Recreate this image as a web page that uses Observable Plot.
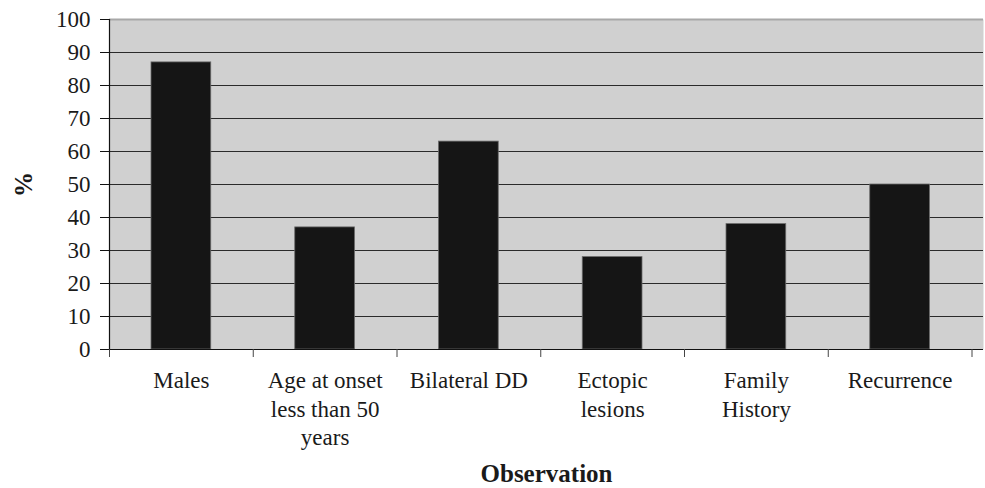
<!DOCTYPE html>
<html>
<head>
<meta charset="utf-8">
<script src="https://cdn.jsdelivr.net/npm/d3@7"></script>
<script src="https://cdn.jsdelivr.net/npm/@observablehq/plot@0.6"></script>
<style>
  html, body { margin: 0; padding: 0; background: #ffffff; }
  #chart { width: 985px; height: 488px; }
  #chart svg text { font-family: "Liberation Serif", "Times New Roman", serif; }
</style>
</head>
<body>
<div id="chart"></div>
<script>
const categories = ["Males", "Age at onset less than 50 years", "Bilateral DD", "Ectopic lesions", "Family History", "Recurrence"];
const tickLabels = ["Males", "Age at onset\nless than 50\nyears", "Bilateral DD", "Ectopic\nlesions", "Family\nHistory", "Recurrence"];
const values = [87, 37, 63, 28, 38, 50];
const yTicks = [0, 10, 20, 30, 40, 50, 60, 70, 80, 90, 100];
const yLabel = "%";
const xLabel = "Observation";

const data = categories.map((c, i) => ({category: c, index: i, value: values[i]}));
const boundaries = d3.range(categories.length + 1);
const centers = categories.map((c, i) => i + 0.5);
const serif = "Liberation Serif";

const chart = Plot.plot({
  width: 985,
  height: 488,
  marginLeft: 109,
  marginRight: 2,
  marginTop: 19,
  marginBottom: 139,
  style: {fontFamily: serif, fontSize: "23px", color: "#1a1a1a", background: "#ffffff"},
  x: {type: "linear", domain: [0, categories.length + 0.08]},
  y: {domain: [0, 100]},
  marks: [
    Plot.frame({fill: "#d0d0d0", stroke: null}),
    Plot.ruleY(yTicks.filter(v => v > 0 && v < 100), {stroke: "#2a2a2a", strokeWidth: 1}),
    Plot.ruleY([100], {stroke: "#a8a8a8", strokeWidth: 2}),
    Plot.rectY(data, {x1: "index", x2: d => d.index + 1, y: "value", insetLeft: 42, insetRight: 42, fill: "#151515", stroke: "#6a6a6a", strokeWidth: 0.8}),
    Plot.ruleY([0], {stroke: "#111111", strokeWidth: 1.2}),
    Plot.ruleX([0], {stroke: "#111111", strokeWidth: 1.2}),
    Plot.axisY({ticks: yTicks, tickSize: 9, tickPadding: 10, label: null, fontSize: 23, fontFamily: serif, stroke: "#111"}),
    Plot.axisY({ticks: [], label: yLabel, labelAnchor: "center", labelArrow: "none", labelOffset: 95, fontSize: 25, fontFamily: serif, fontWeight: "bold"}),
    Plot.axisX({ticks: boundaries, tickSize: 8, tickFormat: () => "", label: null, stroke: "#444"}),
    Plot.axisX({ticks: centers, tickSize: 0, tickPadding: 18, tickFormat: v => tickLabels[Math.floor(v)], lineHeight: 1.25, label: null, fontSize: 23, fontFamily: serif}),
    Plot.axisX({ticks: [], label: xLabel, labelAnchor: "center", labelArrow: "none", labelOffset: 132, fontSize: 25, fontFamily: serif, fontWeight: "bold"})
  ]
});
document.getElementById("chart").appendChild(chart);
</script>
</body>
</html>
